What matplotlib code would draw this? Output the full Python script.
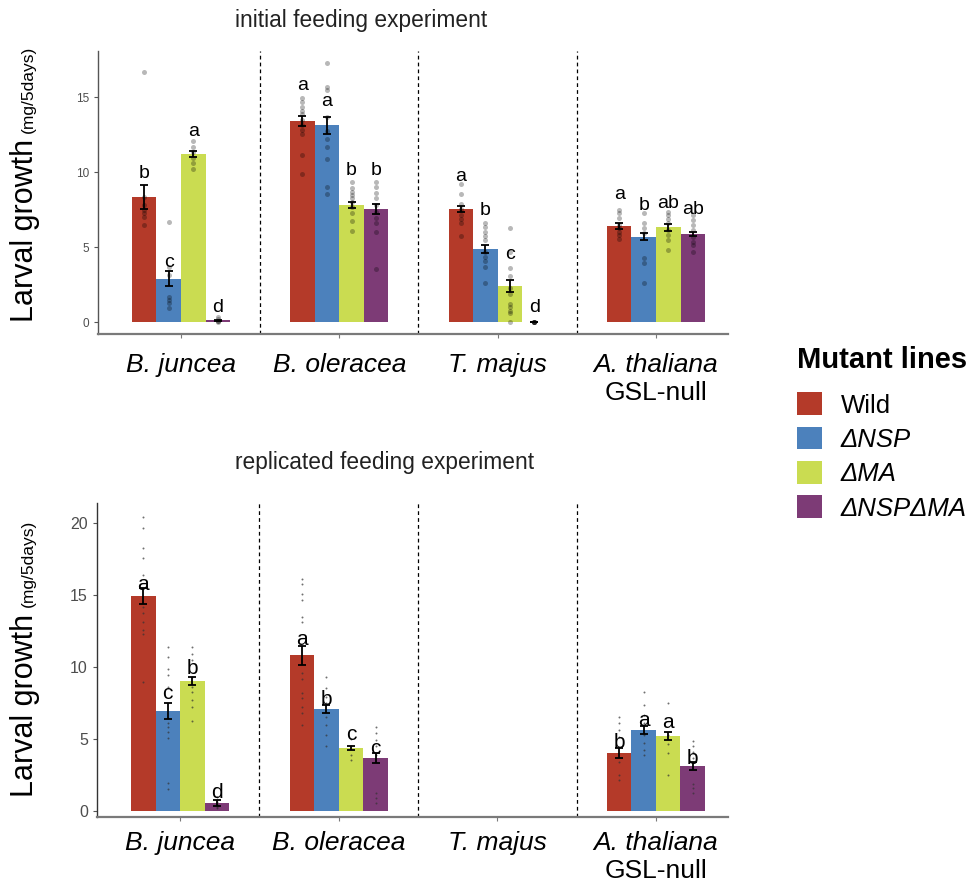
import numpy as np
import matplotlib.pyplot as plt
from matplotlib.patches import Patch

plt.rcParams['font.family'] = ['Liberation Sans', 'DejaVu Sans']

species = ['B. juncea', 'B. oleracea', 'T. majus', 'A. thaliana']
lines = ['Wild', 'ΔNSP', 'ΔMA', 'ΔNSPΔMA']
colors = ['#B43A29', '#4C81BC', '#CADC51', '#7D3B76']
nan = np.nan

# initial feeding experiment (rows: species, cols: mutant line)
init_mean = [[8.31, 2.87, 11.2, 0.13],
             [13.4, 13.13, 7.8, 7.51],
             [7.51, 4.87, 2.4, 0.0],
             [6.4, 5.69, 6.31, 5.87]]
init_se = [[0.8, 0.5, 0.17, 0.03],
           [0.31, 0.57, 0.22, 0.33],
           [0.2, 0.27, 0.42, 0.0],
           [0.2, 0.25, 0.22, 0.15]]
init_letters = [['b', 'c', 'a', 'd'],
                ['a', 'a', 'b', 'b'],
                ['a', 'b', 'c', 'd'],
                ['a', 'b', 'ab', 'ab']]
init_letter_y = [[9.9, 3.98, 12.7, 0.95],
                 [15.8, 14.69, 10.09, 10.09],
                 [9.73, 7.42, 4.53, 0.95],
                 [8.47, 7.8, 7.91, 7.51]]
init_points = [
    [[16.7, 8.36, 7.8, 7.5, 7.24, 6.98, 6.47],
     [6.67, 3.69, 3.13, 1.69, 1.47, 1.24, 0.91],
     [12.09, 11.69, 11.31, 10.96, 10.62, 10.18],
     [0.36, 0.2, 0.1, 0.05, 0.0]],
    [[14.91, 14.69, 14.36, 14.09, 13.87, 13.47, 13.13, 12.8, 12.53, 11.13, 9.87],
     [17.24, 15.64, 15.47, 13.69, 12.76, 12.18, 11.69, 10.84, 9.02, 8.51],
     [9.31, 8.91, 8.69, 8.47, 8.24, 8.02, 7.69, 7.24, 6.76, 6.07],
     [9.31, 8.98, 8.62, 8.24, 7.8, 7.36, 6.91, 6.58, 6.02, 3.51]],
    [[9.2, 8.53, 7.87, 7.51, 7.13, 6.84, 6.58, 5.73],
     [6.62, 6.31, 6.02, 5.73, 5.47, 4.69, 4.36, 4.09, 3.64, 2.62],
     [6.24, 4.69, 3.58, 3.07, 2.24, 1.87, 1.2, 0.98, 0.76, 0.58, 0.02],
     [0, 0, 0, 0, 0, 0]],
    [[7.47, 7.24, 6.91, 6.47, 6.24, 6.02, 5.8, 5.51],
     [7.24, 6.58, 6.24, 5.91, 4.24, 3.91, 2.62],
     [7.36, 7.13, 6.84, 6.58, 6.13, 5.8, 5.47, 4.8],
     [7.13, 6.8, 6.47, 6.13, 5.69, 5.36, 5.13, 4.69]],
]

# replicated feeding experiment (T. majus not tested)
rep_mean = [[14.93, 6.94, 9.03, 0.53],
            [10.81, 7.06, 4.35, 3.66],
            [nan, nan, nan, nan],
            [4.0, 5.63, 5.21, 3.13]]
rep_se = [[0.55, 0.54, 0.29, 0.2],
          [0.67, 0.27, 0.14, 0.35],
          [nan, nan, nan, nan],
          [0.35, 0.26, 0.29, 0.27]]
rep_letters = [['a', 'c', 'b', 'd'],
               ['a', 'b', 'c', 'c'],
               ['', '', '', ''],
               ['b', 'a', 'a', 'b']]
rep_letter_y = [[15.7, 8.17, 9.91, 1.27],
                [11.88, 7.76, 5.28, 4.35],
                [nan, nan, nan, nan],
                [4.75, 6.25, 6.13, 3.66]]
rep_points = [
    [[20.4, 19.65, 18.24, 17.6, 16.39, 14.19, 13.73, 13.15, 12.57, 12.29, 8.94],
     [11.37, 10.67, 9.84, 9.44, 8.59, 6.44, 6.09, 5.86, 5.51, 5.05, 1.92, 1.51],
     [11.37, 10.9, 10.49, 9.33, 8.63, 8.29, 7.71, 7.24, 6.25],
     [0.95, 0.75, 0.6, 0.45, 0.3, 0.2]],
    [[16.09, 15.76, 15.07, 14.65, 13.49, 13.15, 9.56, 9.15, 8.17, 7.82, 7.24, 6.78, 5.97],
     [9.33, 8.52, 7.94, 7.48, 6.55, 5.97, 5.28, 4.51],
     [4.98, 4.51, 3.89, 3.54],
     [5.86, 5.4, 4.93, 4.51, 3.89, 1.23, 0.88, 0.53]],
    [[], [], [], []],
    [[6.55, 6.09, 5.63, 5.16, 3.43, 2.5, 2.15],
     [8.29, 7.36, 6.67, 6.09, 5.28, 4.7, 4.24, 3.89],
     [7.52, 5.28, 4.65, 4.05, 2.5],
     [4.88, 4.51, 4.12, 3.66, 1.88, 1.58, 1.27]],
]


def draw_panel(ax, mean, se, letters, letter_y, points, dot_kw, letter_size, gsl_offset):
    x = np.arange(1, len(species) + 1)
    w = 0.155
    offs = (np.arange(len(lines)) - 1.5) * w
    for j in range(len(lines)):
        xs = x + offs[j]
        m = np.array([row[j] for row in mean], float)
        s = np.array([row[j] for row in se], float)
        ax.bar(xs, np.nan_to_num(m), width=w, color=colors[j], linewidth=0, zorder=2)
        for i in range(len(species)):
            pts = points[i][j]
            if pts:
                ax.scatter(np.full(len(pts), xs[i]), pts, zorder=3, linewidths=0, **dot_kw)
            if letters[i][j]:
                ax.text(xs[i], letter_y[i][j], letters[i][j], ha='center', va='center',
                        fontsize=letter_size, color='black', zorder=5)
        ax.errorbar(xs, m, yerr=s, fmt='none', ecolor='black', elinewidth=1.3,
                    capsize=3, capthick=1.3, zorder=4)
    for sep in [1.5, 2.5, 3.5]:
        ax.axvline(sep, color='black', lw=0.9, ls=(0, (3, 2.5)), zorder=1)
    ax.set_xlim(0.476, 4.455)
    ax.set_xticks(x, species, fontstyle='italic', fontsize=19)
    for side in ['top', 'right']:
        ax.spines[side].set_visible(False)
    ax.spines['bottom'].set_color('#7a7a7a')
    ax.spines['bottom'].set_linewidth(1.6)
    ax.spines['left'].set_color('#555555')
    ax.spines['left'].set_linewidth(1.0)
    ax.tick_params(axis='x', length=3, color='#7a7a7a')
    ax.tick_params(axis='y', length=3, color='#555555', labelcolor='#4d4d4d')
    # second line under A. thaliana
    ax.annotate('GSL-null', xy=(4, 0), xycoords=('data', 'axes fraction'),
                xytext=(0, gsl_offset), textcoords='offset points',
                ha='center', va='top', fontsize=19, annotation_clip=False)


fig = plt.figure(figsize=(9.72, 8.84), dpi=100)

ax1 = fig.add_axes([98 / 972, 1 - 334 / 884, 630 / 972, 283 / 884])
draw_panel(ax1, init_mean, init_se, init_letters, init_letter_y, init_points,
           dict(s=13, color='black', alpha=0.28), 14, -33.5)
ax1.set_ylim(-0.8, 18.07)
ax1.set_yticks([0, 5, 10, 15])
ax1.tick_params(axis='y', labelsize=8.5)
ax1.tick_params(axis='x', pad=11)

ax2 = fig.add_axes([97 / 972, 1 - 817 / 884, 631 / 972, 314 / 884])
draw_panel(ax2, rep_mean, rep_se, rep_letters, rep_letter_y, rep_points,
           dict(s=2, color='#333333', alpha=0.7), 15, -30)
ax2.set_ylim(-0.42, 21.39)
ax2.set_yticks([0, 5, 10, 15, 20])
ax2.tick_params(axis='y', labelsize=11.5)
ax2.tick_params(axis='x', pad=7)
ax2.spines['left'].set_color('#333333')

# titles and y labels
fig.text(235 / 972, 1 - 27 / 884, 'initial feeding experiment', fontsize=16.4,
         color='#222222', ha='left', va='baseline')
fig.text(235 / 972, 1 - 469 / 884, 'replicated feeding experiment', fontsize=16.4,
         color='#222222', ha='left', va='baseline')
for y_big, y_small in [(322, 133), (797, 607)]:
    fig.text(33 / 972, 1 - y_big / 884, 'Larval growth', fontsize=22, rotation=90,
             rotation_mode='anchor', ha='left', va='baseline')
    fig.text(33 / 972, 1 - y_small / 884, '(mg/5days)', fontsize=12.5, rotation=90,
             rotation_mode='anchor', ha='left', va='baseline')

# legend
fig.text(797 / 972, 1 - 360 / 884, 'Mutant lines', fontsize=21, fontweight='bold',
         ha='left', va='center')
handles = [Patch(facecolor=c, edgecolor='none') for c in colors]
leg = fig.legend(handles, lines, loc='center left', bbox_to_anchor=(797 / 972, 1 - 456.5 / 884),
                 frameon=False, borderpad=0, borderaxespad=0, fontsize=18.5,
                 handlelength=0.97, handleheight=0.97, handletextpad=0.74,
                 labelspacing=0.36)
for t in leg.get_texts()[1:]:
    t.set_fontstyle('italic')

fig.savefig('out.png', dpi=100)
